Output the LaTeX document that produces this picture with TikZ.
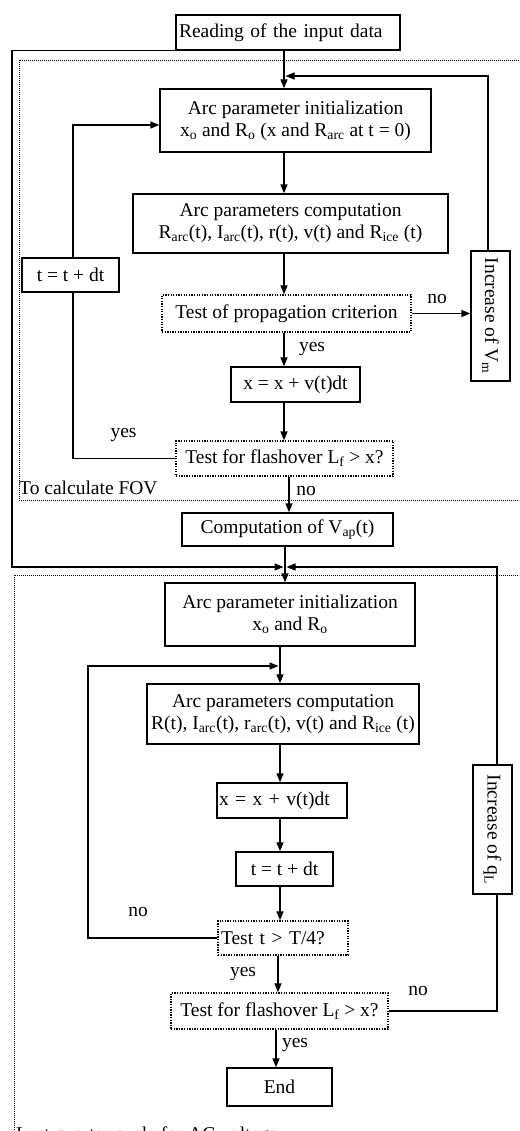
\documentclass[tikz,border=0pt]{standalone}
\usepackage{fontspec}
\setmainfont{Liberation Serif}
\usetikzlibrary{arrows.meta}
\newcommand\figfont{\fontsize{19.5}{22}\selectfont}
\tikzset{
  box/.style={draw, line width=1.4pt, inner sep=0pt, align=center, font=\figfont},
  dbox/.style={box, line width=1.3pt, dash pattern=on 1.3pt off 1.3pt},
  frame/.style={line width=0.9pt, dash pattern=on 1pt off 1pt},
  ln/.style={line width=1.4pt},
  arr/.style={line width=1.4pt, -{Triangle[length=9pt,width=7pt]}},
  lab/.style={font=\figfont, inner sep=0pt}
}
\begin{document}
\begin{tikzpicture}[x=1pt, y=-1pt]
\useasboundingbox (0,0) rectangle (519,1131);
\clip (0,0) rectangle (519,1131);
% frames
\draw[frame] (19,60) rectangle (530,500);
\draw[frame] (14,575) rectangle (530,1160);
% columns / rows
\coordinate (A) at (284,0);
\coordinate (Atip) at (285.5,0);
\coordinate (B) at (289,0);
\coordinate (C) at (285,0);
\coordinate (Ctl) at (283.5,0);
\coordinate (Ctr) at (286.5,0);
\coordinate (D) at (280,0);
\coordinate (Dtip) at (278.5,0);
\coordinate (E) at (278,0);
\coordinate (F) at (276,0);
\coordinate (R1) at (488,0);
\coordinate (RR) at (497,0);
\coordinate (L1) at (73,0);
\coordinate (LL) at (12,0);
\coordinate (LL2) at (88,0);
\coordinate (Y76) at (0,76);
\coordinate (Y125) at (0,125);
\coordinate (M) at (0,567);
\coordinate (Y666) at (0,666);
% nodes
\node[box, minimum width=224pt, minimum height=35pt, text width=218pt, align=left, inner xsep=3pt] (read) at (288,32.5) {Reading of the input data};
\node[box, minimum width=271pt, minimum height=63pt] (init1) at (295.5,120.5) {Arc parameter initialization\\x\textsubscript{o} and R\textsubscript{o} (x and R\textsubscript{arc} at t = 0)};
\node[box, minimum width=315pt, minimum height=59pt] (comp1) at (290.5,223.5) {Arc parameters computation\\R\textsubscript{arc}(t), I\textsubscript{arc}(t), r(t), v(t) and R\textsubscript{ice} (t)};
\node[box, minimum width=97pt, minimum height=34pt] (tdt1) at (70.5,275) {t = t + dt};
\node[dbox, minimum width=249pt, minimum height=37pt] (prop) at (286.5,313.5) {Test of propagation criterion};
\node[box, minimum width=39pt, minimum height=130pt] (incV) at (490.5,316) {\rotatebox{-90}{Increase of V\textsubscript{m}}};
\node[box, minimum width=129pt, minimum height=35pt] (xdt1) at (295.5,384.5) {x = x + v(t)dt};
\node[dbox, minimum width=217pt, minimum height=35pt] (flash1) at (284.5,458.5) {Test for flashover L\textsubscript{f} > x?};
\node[box, minimum width=211pt, minimum height=33pt] (vap) at (287.5,529.5) {Computation of V\textsubscript{ap}(t)};
\node[box, minimum width=250pt, minimum height=63pt] (init2) at (290,614.5) {Arc parameter initialization\\x\textsubscript{o} and R\textsubscript{o}};
\node[box, minimum width=272pt, minimum height=60pt] (comp2) at (283,714) {Arc parameters computation\\R(t), I\textsubscript{arc}(t), r\textsubscript{arc}(t), v(t) and R\textsubscript{ice} (t)};
\node[box, minimum width=130pt, minimum height=35pt, text width=126pt, align=left, inner xsep=2pt] (xdt2) at (282,800.5) {x = x + v(t)dt};
\node[box, minimum width=97pt, minimum height=34pt] (tdt2) at (284.5,869) {t = t + dt};
\node[dbox, minimum width=130pt, minimum height=34pt, text width=124pt, align=left, inner xsep=3pt] (testt) at (283,938) {Test t > T/4?};
\node[box, minimum width=39pt, minimum height=129pt] (incq) at (492.5,829.5) {\rotatebox{-90}{Increase of q\textsubscript{L}}};
\node[dbox, minimum width=217pt, minimum height=36pt] (flash2) at (279.5,1011) {Test for flashover L\textsubscript{f} > x?};
\node[box, minimum width=105pt, minimum height=38pt] (end) at (279.5,1087) {End};
% labels
\node[lab] (l1) at (437,299) {no};
\node[lab] (l2) at (312,349) {yes};
\node[lab] (l3) at (123.5,435) {yes};
\node[lab] (l4) at (306,491) {no};
\node[lab, anchor=west] (l5) at (19,488) {To calculate FOV};
\node[lab] (l6) at (138,912) {no};
\node[lab] (l7) at (243,974) {yes};
\node[lab] (l8) at (418,991) {no};
\node[lab] (l9) at (295,1045) {yes};
\node[lab, anchor=base west] (l10) at (16,1140) {Last quarter cycle for AC voltage};
% connectors upper part
\draw[arr] (read.south -| A) -- (init1.north -| A);
\draw[arr] (incV.north -| R1) |- (Y76 -| Atip);
\draw[arr] (init1.south -| A) -- (comp1.north -| A);
\draw[arr] (comp1.south -| A) -- (prop.north -| A);
\draw[arr] (prop.east) -- (prop.east -| incV.west);
\draw[arr] (prop.south -| A) -- (xdt1.north -| A);
\draw[arr] (xdt1.south -| A) -- (flash1.north -| A);
\draw[ln] (flash1.west) -| (tdt1.south -| L1);
\draw[arr] (tdt1.north -| L1) |- (init1.west |- Y125);
\draw[arr] (flash1.south -| B) -- (vap.north -| B);
\draw[arr] (vap.south -| C) -- (init2.north -| C);
\draw[arr] (read.south west) -| (LL |- M) -- (M -| Ctl);
\draw[arr] (incq.north -| RR) |- (M -| Ctr);
% connectors lower part
\draw[arr] (init2.south -| D) -- (comp2.north -| D);
\draw[arr] (comp2.south -| D) -- (xdt2.north -| D);
\draw[arr] (xdt2.south -| D) -- (tdt2.north -| D);
\draw[arr] (tdt2.south -| D) -- (testt.north -| D);
\draw[arr] (testt.west) -| (LL2 |- Y666) -- (Y666 -| Dtip);
\draw[arr] (testt.south -| E) -- (flash2.north -| E);
\draw[ln] (flash2.east) -| (incq.south -| RR);
\draw[arr] (flash2.south -| F) -- (end.north -| F);
\end{tikzpicture}
\end{document}
